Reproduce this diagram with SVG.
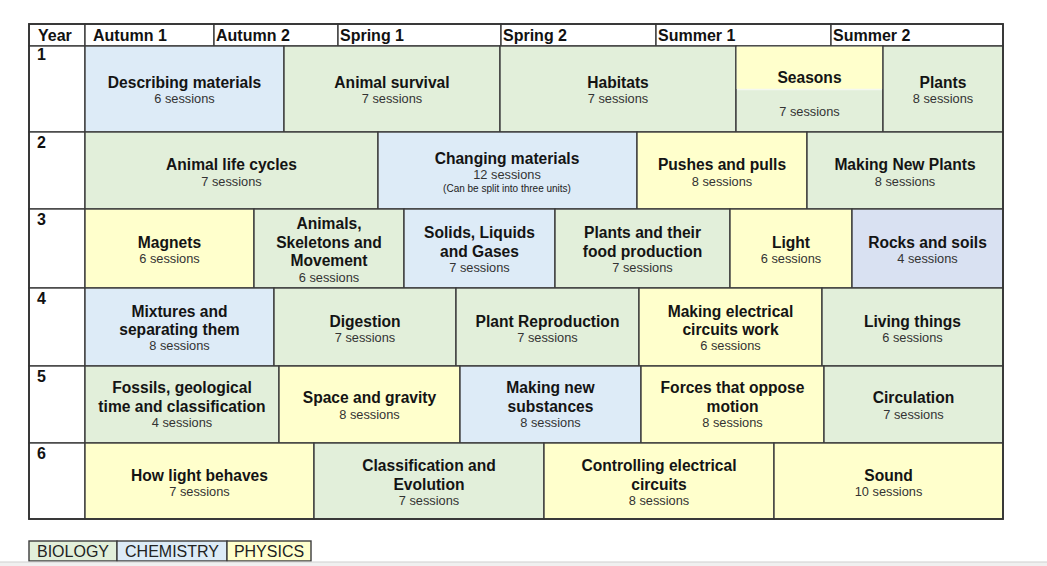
<svg xmlns="http://www.w3.org/2000/svg" width="1047" height="566" viewBox="0 0 1047 566">
<style>
.c{stroke:#3c3c3c;stroke-width:1.4}
.w{fill:#ffffff}.g{fill:#e2efda}.b{fill:#ddebf7}.y{fill:#ffffcc}.r{fill:#d9e1f2}
text{font-family:"Liberation Sans",Arial,sans-serif}
.h{font-size:16px;font-weight:bold;fill:#111}
.t{font-size:15.6px;font-weight:bold;fill:#141414;text-anchor:middle}
.s{font-size:12.8px;fill:#333;text-anchor:middle}
.n{font-size:10px;fill:#222;text-anchor:middle}
.l{font-size:16px;fill:#222;text-anchor:middle}
</style>
<rect width="1047" height="566" fill="#ffffff"/>
<g id="header">
<rect class="c w" x="29" y="24" width="56" height="22"/>
<rect class="c w" x="85" y="24" width="129" height="22"/>
<rect class="c w" x="214" y="24" width="124" height="22"/>
<rect class="c w" x="338" y="24" width="163" height="22"/>
<rect class="c w" x="501" y="24" width="155" height="22"/>
<rect class="c w" x="656" y="24" width="175" height="22"/>
<rect class="c w" x="831" y="24" width="172" height="22"/>
<text class="h" x="38" y="41">Year</text>
<text class="h" x="93" y="41">Autumn 1</text>
<text class="h" x="216" y="41">Autumn 2</text>
<text class="h" x="340" y="41">Spring 1</text>
<text class="h" x="503" y="41">Spring 2</text>
<text class="h" x="658" y="41">Summer 1</text>
<text class="h" x="833" y="41">Summer 2</text>
</g>
<g id="years">
<rect class="c w" x="29" y="46" width="56" height="86"/>
<rect class="c w" x="29" y="132" width="56" height="77"/>
<rect class="c w" x="29" y="209" width="56" height="79"/>
<rect class="c w" x="29" y="288" width="56" height="78"/>
<rect class="c w" x="29" y="366" width="56" height="77"/>
<rect class="c w" x="29" y="443" width="56" height="76"/>
<text class="h" x="37" y="60">1</text>
<text class="h" x="37" y="148">2</text>
<text class="h" x="37" y="225">3</text>
<text class="h" x="37" y="304">4</text>
<text class="h" x="37" y="382">5</text>
<text class="h" x="37" y="459">6</text>
</g>
<g id="y1-describing-materials"><rect class="c b" x="85" y="46" width="199" height="86"/><text class="t" x="184.5" y="87.5">Describing materials</text><text class="s" x="184.5" y="102.5">6 sessions</text></g>
<g id="y1-animal-survival"><rect class="c g" x="284" y="46" width="216" height="86"/><text class="t" x="392" y="87.5">Animal survival</text><text class="s" x="392" y="102.5">7 sessions</text></g>
<g id="y1-habitats"><rect class="c g" x="500" y="46" width="236" height="86"/><text class="t" x="618" y="87.5">Habitats</text><text class="s" x="618" y="102.5">7 sessions</text></g>
<g id="y1-seasons"><rect class="c g" x="736" y="46" width="147" height="86"/><rect class="y" x="736.7" y="46.7" width="145.6" height="42.3"/><line x1="737" y1="89.5" x2="882" y2="89.5" stroke="#f4f8f0" stroke-width="1.5"/><text class="t" x="809.5" y="83">Seasons</text><text class="s" x="809.5" y="116">7 sessions</text></g>
<g id="y1-plants"><rect class="c g" x="883" y="46" width="120" height="86"/><text class="t" x="943" y="87.5">Plants</text><text class="s" x="943" y="102.5">8 sessions</text></g>
<g id="y2-animal-life-cycles"><rect class="c g" x="85" y="132" width="293" height="77"/><text class="t" x="231.5" y="169.5">Animal life cycles</text><text class="s" x="231.5" y="185.5">7 sessions</text></g>
<g id="y2-changing-materials"><rect class="c b" x="378" y="132" width="259" height="77"/><text class="t" x="507" y="163.5">Changing materials</text><text class="s" x="507" y="178.5">12 sessions</text><text class="n" x="507" y="191.5">(Can be split into three units)</text></g>
<g id="y2-pushes-and-pulls"><rect class="c y" x="637" y="132" width="170" height="77"/><text class="t" x="722" y="169.5">Pushes and pulls</text><text class="s" x="722" y="185.5">8 sessions</text></g>
<g id="y2-making-new-plants"><rect class="c g" x="807" y="132" width="196" height="77"/><text class="t" x="905" y="169.5">Making New Plants</text><text class="s" x="905" y="185.5">8 sessions</text></g>
<g id="y3-magnets"><rect class="c y" x="85" y="209" width="169" height="79"/><text class="t" x="169.5" y="247.5">Magnets</text><text class="s" x="169.5" y="263">6 sessions</text></g>
<g id="y3-animals-skeletons"><rect class="c g" x="254" y="209" width="150" height="79"/><text class="t" x="329" y="228.5">Animals,</text><text class="t" x="329" y="247.5">Skeletons and</text><text class="t" x="329" y="266">Movement</text><text class="s" x="329" y="281.5">6 sessions</text></g>
<g id="y3-solids-liquids-gases"><rect class="c b" x="404" y="209" width="151" height="79"/><text class="t" x="479.5" y="238">Solids, Liquids</text><text class="t" x="479.5" y="256.5">and Gases</text><text class="s" x="479.5" y="271.5">7 sessions</text></g>
<g id="y3-plants-food-production"><rect class="c g" x="555" y="209" width="175" height="79"/><text class="t" x="642.5" y="238">Plants and their</text><text class="t" x="642.5" y="256.5">food production</text><text class="s" x="642.5" y="271.5">7 sessions</text></g>
<g id="y3-light"><rect class="c y" x="730" y="209" width="122" height="79"/><text class="t" x="791" y="247.5">Light</text><text class="s" x="791" y="263">6 sessions</text></g>
<g id="y3-rocks-and-soils"><rect class="c r" x="852" y="209" width="151" height="79"/><text class="t" x="927.5" y="247.5">Rocks and soils</text><text class="s" x="927.5" y="263">4 sessions</text></g>
<g id="y4-mixtures"><rect class="c b" x="85" y="288" width="189" height="78"/><text class="t" x="179.5" y="316.5">Mixtures and</text><text class="t" x="179.5" y="335">separating them</text><text class="s" x="179.5" y="350">8 sessions</text></g>
<g id="y4-digestion"><rect class="c g" x="274" y="288" width="182" height="78"/><text class="t" x="365" y="326.5">Digestion</text><text class="s" x="365" y="341.5">7 sessions</text></g>
<g id="y4-plant-reproduction"><rect class="c g" x="456" y="288" width="183" height="78"/><text class="t" x="547.5" y="326.5">Plant Reproduction</text><text class="s" x="547.5" y="341.5">7 sessions</text></g>
<g id="y4-making-electrical-circuits"><rect class="c y" x="639" y="288" width="183" height="78"/><text class="t" x="730.5" y="316.5">Making electrical</text><text class="t" x="730.5" y="335">circuits work</text><text class="s" x="730.5" y="350">6 sessions</text></g>
<g id="y4-living-things"><rect class="c g" x="822" y="288" width="181" height="78"/><text class="t" x="912.5" y="326.5">Living things</text><text class="s" x="912.5" y="341.5">6 sessions</text></g>
<g id="y5-fossils"><rect class="c g" x="85" y="366" width="194" height="77"/><text class="t" x="182" y="393">Fossils, geological</text><text class="t" x="182" y="412">time and classification</text><text class="s" x="182" y="426.5">4 sessions</text></g>
<g id="y5-space-and-gravity"><rect class="c y" x="279" y="366" width="181" height="77"/><text class="t" x="369.5" y="403">Space and gravity</text><text class="s" x="369.5" y="418.5">8 sessions</text></g>
<g id="y5-making-new-substances"><rect class="c b" x="460" y="366" width="181" height="77"/><text class="t" x="550.5" y="393">Making new</text><text class="t" x="550.5" y="412">substances</text><text class="s" x="550.5" y="426.5">8 sessions</text></g>
<g id="y5-forces"><rect class="c y" x="641" y="366" width="183" height="77"/><text class="t" x="732.5" y="393">Forces that oppose</text><text class="t" x="732.5" y="412">motion</text><text class="s" x="732.5" y="426.5">8 sessions</text></g>
<g id="y5-circulation"><rect class="c g" x="824" y="366" width="179" height="77"/><text class="t" x="913.5" y="403">Circulation</text><text class="s" x="913.5" y="418.5">7 sessions</text></g>
<g id="y6-how-light-behaves"><rect class="c y" x="85" y="443" width="229" height="76"/><text class="t" x="199.5" y="481">How light behaves</text><text class="s" x="199.5" y="496">7 sessions</text></g>
<g id="y6-classification-evolution"><rect class="c g" x="314" y="443" width="230" height="76"/><text class="t" x="429" y="471">Classification and</text><text class="t" x="429" y="489.5">Evolution</text><text class="s" x="429" y="504.5">7 sessions</text></g>
<g id="y6-controlling-circuits"><rect class="c y" x="544" y="443" width="230" height="76"/><text class="t" x="659" y="471">Controlling electrical</text><text class="t" x="659" y="489.5">circuits</text><text class="s" x="659" y="504.5">8 sessions</text></g>
<g id="y6-sound"><rect class="c y" x="774" y="443" width="229" height="76"/><text class="t" x="888.5" y="481">Sound</text><text class="s" x="888.5" y="496">10 sessions</text></g>
<rect x="29" y="24" width="974" height="495" fill="none" stroke="#333" stroke-width="1.8"/>
<g id="connectors"/>
<g id="legend">
<rect class="c g" x="29" y="541" width="88" height="20"/>
<rect class="c b" x="117" y="541" width="110" height="20"/>
<rect class="c y" x="227" y="541" width="84" height="20"/>
<text class="l" x="73" y="557">BIOLOGY</text>
<text class="l" x="172" y="557">CHEMISTRY</text>
<text class="l" x="269" y="557">PHYSICS</text>
</g>
<rect x="0" y="562" width="1047" height="4" fill="#f0f0f0"/>
<line x1="0" y1="562" x2="1047" y2="562" stroke="#cfcfcf" stroke-width="1"/>
</svg>
